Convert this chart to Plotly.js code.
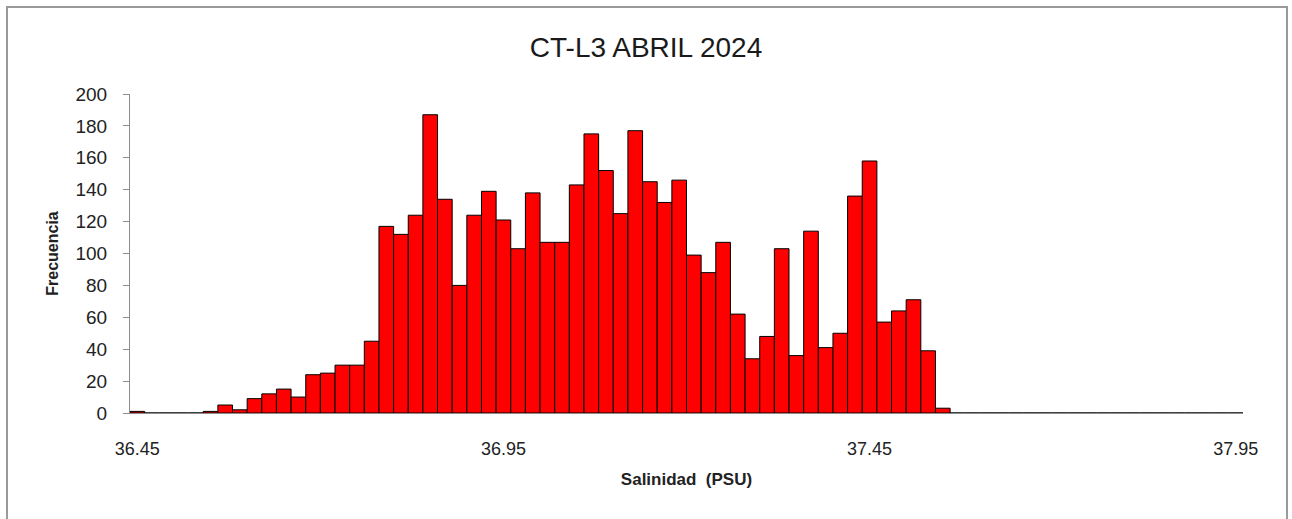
<!DOCTYPE html>
<html>
<head>
<meta charset="utf-8">
<script src="https://cdn.plot.ly/plotly-3.0.1.min.js"></script>
<style>
  html, body { margin: 0; padding: 0; background: #ffffff; }
  #chart { width: 1292px; height: 519px; }
</style>
</head>
<body>
<div id="chart"></div>
<script>
// Bin labels (salinity, PSU)
const bins = [
  "36.45","36.47","36.49","36.51","36.53","36.55","36.57","36.59","36.61","36.63",
  "36.65","36.67","36.69","36.71","36.73","36.75","36.77","36.79","36.81","36.83",
  "36.85","36.87","36.89","36.91","36.93","36.95","36.97","36.99","37.01","37.03",
  "37.05","37.07","37.09","37.11","37.13","37.15","37.17","37.19","37.21","37.23",
  "37.25","37.27","37.29","37.31","37.33","37.35","37.37","37.39","37.41","37.43",
  "37.45","37.47","37.49","37.51","37.53","37.55","37.57","37.59","37.61","37.63",
  "37.65","37.67","37.69","37.71","37.73","37.75","37.77","37.79","37.81","37.83",
  "37.85","37.87","37.89","37.91","37.93","37.95"
];

// Frequencies
const frecuencia = [
  1, 0, 0, 0, 0, 1, 5, 2, 9, 12,
  15, 10, 24, 25, 30, 30, 45, 117, 112, 124,
  187, 134, 80, 124, 139, 121, 103, 138, 107, 107,
  143, 175, 152, 125, 177, 145, 132, 146, 99, 88,
  107, 62, 34, 48, 103, 36, 114, 41, 50, 136,
  158, 57, 64, 71, 39, 3, 0, 0, 0, 0,
  0, 0, 0, 0, 0, 0, 0, 0, 0, 0,
  0, 0, 0, 0, 0, 0
];

const tickLabels = ["36.45", "36.95", "37.45", "37.95"];
const yTicks = [0, 20, 40, 60, 80, 100, 120, 140, 160, 180, 200];

const narrow = "Liberation Sans Narrow, Liberation Sans, Arial, sans-serif";

const trace = {
  type: "bar",
  x: bins,
  y: frecuencia,
  marker: { color: "#ff0000", line: { color: "#000000", width: 1 } },
  hoverinfo: "x+y"
};

const layout = {
  width: 1292,
  height: 519,
  margin: { l: 130, r: 49, t: 94, b: 106, pad: 0 },
  paper_bgcolor: "#ffffff",
  plot_bgcolor: "#ffffff",
  showlegend: false,
  bargap: 0,
  title: {
    text: "CT-L3 ABRIL 2024",
    x: 0.5, xanchor: "center",
    y: 0.91, yanchor: "middle",
    font: { family: narrow, size: 28, color: "#1a1a1a" }
  },
  xaxis: {
    type: "category",
    categoryorder: "array",
    categoryarray: bins,
    range: [-0.5, bins.length - 0.5],
    tickmode: "array",
    tickvals: tickLabels,
    ticktext: tickLabels,
    ticks: "",
    ticklabelstandoff: 19,
    tickfont: { family: narrow, size: 18, color: "#222222" },
    showline: true,
    linecolor: "#8c8c8c",
    linewidth: 1,
    showgrid: false,
    zeroline: false,
    title: {
      text: "<b>Salinidad  (PSU)</b>",
      font: { family: narrow, size: 17, color: "#222222" },
      standoff: 15
    },
    fixedrange: true
  },
  yaxis: {
    range: [0, 200],
    tickmode: "array",
    tickvals: yTicks,
    ticks: "outside",
    ticklen: 6,
    tickcolor: "#8c8c8c",
    ticklabelstandoff: 12,
    tickfont: { family: narrow, size: 19, color: "#222222" },
    showline: true,
    linecolor: "#8c8c8c",
    linewidth: 1,
    showgrid: false,
    zeroline: false,
    title: {
      text: "<b>Frecuencia</b>",
      font: { family: narrow, size: 16, color: "#222222" },
      standoff: 12
    },
    fixedrange: true
  },
  shapes: [
    {
      type: "rect", xref: "paper", yref: "paper",
      x0: -123 / 1113, x1: 1 + 44 / 1113,
      y0: -115 / 319, y1: 1 + 87 / 319,
      line: { color: "#9a9a9a", width: 2 },
      fillcolor: "rgba(0,0,0,0)",
      layer: "below"
    }
  ]
};

Plotly.newPlot("chart", [trace], layout, { displayModeBar: false, staticPlot: true });
</script>
</body>
</html>
